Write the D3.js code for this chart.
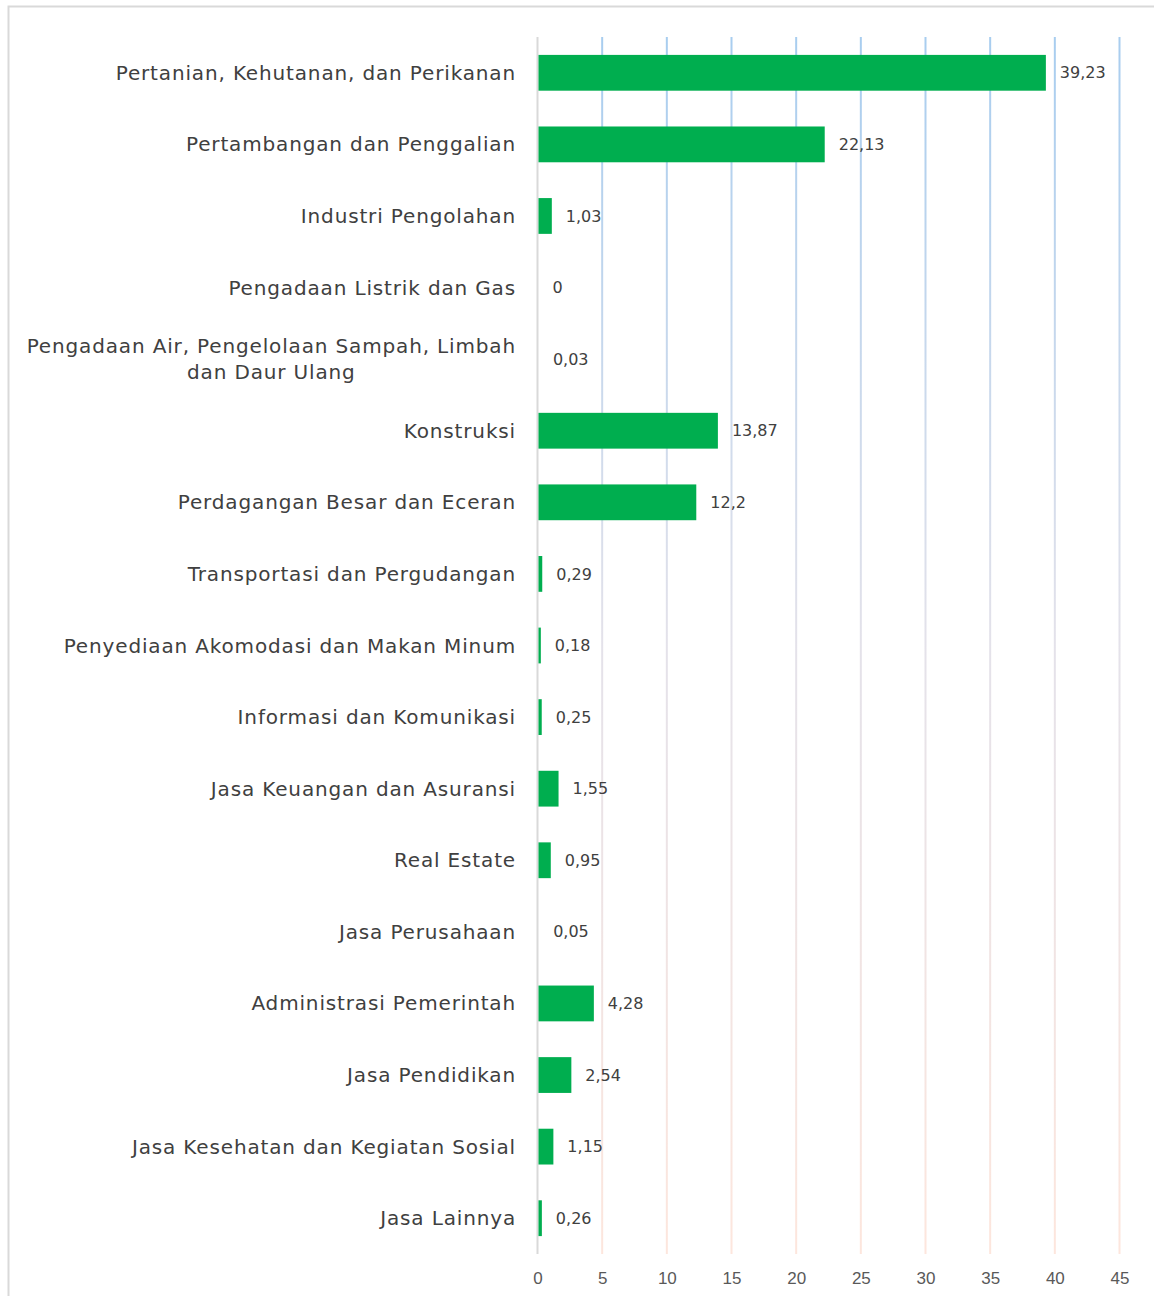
<!DOCTYPE html>
<html lang="id">
  <head>
    <meta charset="UTF-8" />
    <title>Sektor</title>
    <script src="https://d3js.org/d3.v7.min.js"></script>
    <style>
      body {
        margin: 0;
        background: #fff;
        font-family: "DejaVu Sans", sans-serif;
      }
      .cat {
        font-size: 20px;
        letter-spacing: 0.85px;
        fill: #404040;
      }
      .val {
        font-size: 16px;
        fill: #404040;
      }
      .tick text {
        font-size: 17px;
        fill: #595959;
      }
    </style>
  </head>
  <body>
    <div id="chart"></div>
    <script>
      const categories = [
        "Pertanian, Kehutanan, dan Perikanan",
        "Pertambangan dan Penggalian",
        "Industri Pengolahan",
        "Pengadaan Listrik dan Gas",
        "Pengadaan Air, Pengelolaan Sampah, Limbah|dan Daur Ulang",
        "Konstruksi",
        "Perdagangan Besar dan Eceran",
        "Transportasi dan Pergudangan",
        "Penyediaan Akomodasi dan Makan Minum",
        "Informasi dan Komunikasi",
        "Jasa Keuangan dan Asuransi",
        "Real Estate",
        "Jasa Perusahaan",
        "Administrasi Pemerintah",
        "Jasa Pendidikan",
        "Jasa Kesehatan dan Kegiatan Sosial",
        "Jasa Lainnya"
      ];
      const values = [39.23, 22.13, 1.03, 0, 0.03, 13.87, 12.2, 0.29, 0.18, 0.25, 1.55, 0.95, 0.05, 4.28, 2.54, 1.15, 0.26];
      const xTicks = [0, 5, 10, 15, 20, 25, 30, 35, 40, 45];

      const W = 1154, H = 1296;
      const plot = { left: 537.5, right: 1119.5, top: 37, bottom: 1254 };

      const svg = d3.select("#chart").append("svg")
        .attr("width", W).attr("height", H);

      // frame
      svg.append("rect")
        .attr("x", 8.5).attr("y", 6.5)
        .attr("width", W + 20).attr("height", H + 20)
        .attr("fill", "none").attr("stroke", "#d9d9d9").attr("stroke-width", 2);

      const x = d3.scaleLinear().domain([0, 45]).range([plot.left, plot.right]);
      const y = d3.scaleBand().domain(d3.range(categories.length))
        .range([plot.top, plot.bottom]).paddingInner(0.5).paddingOuter(0.25);

      const grad = svg.append("defs").append("linearGradient")
        .attr("id", "gridGrad").attr("gradientUnits", "userSpaceOnUse")
        .attr("x1", 0).attr("x2", 0).attr("y1", plot.top).attr("y2", plot.bottom);
      grad.append("stop").attr("offset", "0%").attr("stop-color", "#a8cdef");
      grad.append("stop").attr("offset", "50%").attr("stop-color", "#e4e2ea");
      grad.append("stop").attr("offset", "100%").attr("stop-color", "#fde6dd");

      svg.append("g").selectAll("rect")
        .data(xTicks.slice(1))
        .join("rect")
        .attr("x", d => x(d) - 1)
        .attr("y", plot.top)
        .attr("width", 2)
        .attr("height", plot.bottom - plot.top)
        .attr("fill", "url(#gridGrad)");

      // axis baseline
      svg.append("line")
        .attr("x1", plot.left).attr("x2", plot.left)
        .attr("y1", plot.top).attr("y2", plot.bottom)
        .attr("stroke", "#d9d9d9").attr("stroke-width", 2);

      const xAxis = svg.append("g")
        .attr("transform", `translate(0,${plot.bottom})`)
        .call(d3.axisBottom(x).tickValues(xTicks).tickSize(0).tickPadding(18));
      xAxis.select(".domain").remove();

      // bars (values below ~0.1 are not visible in the original)
      svg.append("g").selectAll("rect")
        .data(values)
        .join("rect")
        .attr("x", plot.left + 1)
        .attr("y", (d, i) => y(i))
        .attr("width", d => d >= 0.1 ? x(d) - x(0) : 0)
        .attr("height", y.bandwidth())
        .attr("fill", "#00ae4f");

      const fmt = v => String(v).replace(".", ",");
      svg.append("g").selectAll("text")
        .data(values)
        .join("text")
        .attr("class", "val")
        .attr("x", d => x(d) + 15)
        .attr("y", (d, i) => y(i) + y.bandwidth() / 2)
        .attr("dy", "0.35em")
        .text(fmt);

      const labelRight = 516;
      const cats = svg.append("g");
      categories.forEach((c, i) => {
        const lines = c.split("|");
        const cy = y(i) + y.bandwidth() / 2;
        const t = cats.append("text").attr("class", "cat");
        if (lines.length === 1) {
          t.attr("x", labelRight).attr("y", cy).attr("dy", "0.35em")
            .attr("text-anchor", "end").text(c);
        } else {
          const lh = 26;
          lines.forEach((l, j) => {
            t.append("tspan").attr("y", cy + (j - (lines.length - 1) / 2) * lh)
              .attr("dy", "0.35em").text(l);
          });
          const widths = t.selectAll("tspan").nodes().map(n => n.getComputedTextLength());
          const maxW = d3.max(widths);
          t.attr("text-anchor", "middle");
          t.selectAll("tspan").attr("x", labelRight - maxW / 2);
        }
      });
    </script>
  </body>
</html>
